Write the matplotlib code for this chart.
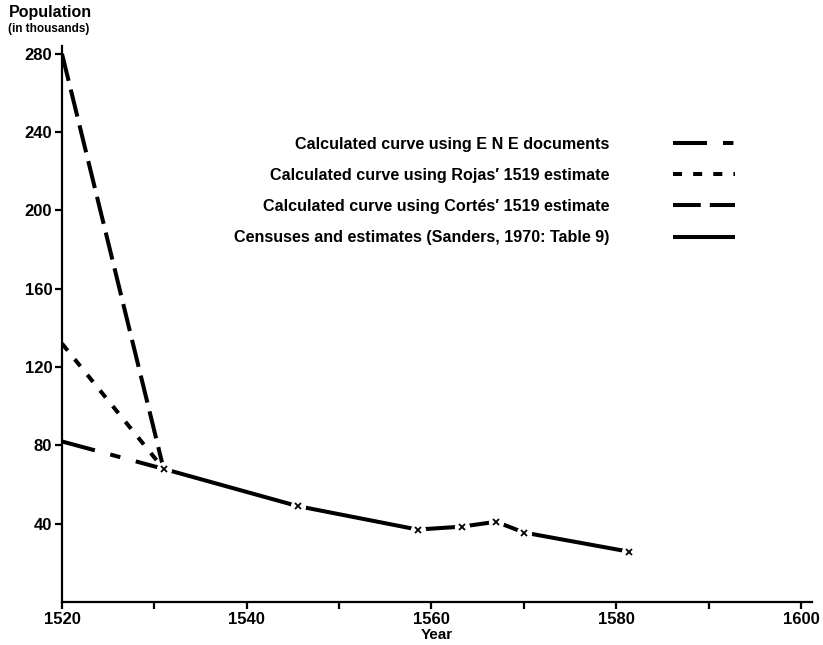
import matplotlib
matplotlib.use("Agg")
import matplotlib.pyplot as plt

plt.rcParams['font.family'] = ['Liberation Sans', 'DejaVu Sans']
plt.rcParams['lines.scale_dashes'] = False

# ---- data (population in thousands) ----
ene_years = [1520, 1531]
ene_values = [82, 68]

rojas_years = [1520, 1531]
rojas_values = [132, 68]

cortes_years = [1520, 1531]
cortes_values = [280, 68]

census_years = [1531, 1545.5, 1558.5, 1563.3, 1567, 1570, 1581.4]
census_values = [68, 49, 37, 38.5, 41, 35.5, 25.7]

labels = [
    "Calculated curve using E N E documents",
    "Calculated curve using Rojas\u2032 1519 estimate",
    "Calculated curve using Cort\u00e9s\u2032 1519 estimate",
    "Censuses and estimates (Sanders, 1970: Table 9)",
]

x_major = [1520, 1540, 1560, 1580, 1600]
x_ticks = [1520, 1530, 1540, 1550, 1560, 1570, 1580, 1590, 1600]
y_ticks = [40, 80, 120, 160, 200, 240, 280]

W, H = 823, 645
fig = plt.figure(figsize=(W / 100, H / 100), dpi=100)
ax = fig.add_axes([62 / W, (H - 602) / H, 750 / W, 556 / H])

lw = 2.9
l1, = ax.plot(ene_years, ene_values, color='black', lw=lw,
              linestyle=(0, (24.5, 11.5, 7.5, 11.5)), dash_capstyle='butt', label=labels[0])
l2, = ax.plot(rojas_years, rojas_values, color='black', lw=lw,
              linestyle=(0, (6.5, 8)), dash_capstyle='butt', label=labels[1])
l3, = ax.plot(cortes_years, cortes_values, color='black', lw=lw,
              linestyle=(0, (20, 6.5)), dash_capstyle='butt', label=labels[2])
l4, = ax.plot(census_years, census_values, color='black', lw=lw,
              solid_capstyle='butt', label=labels[3])
# white gaps around census markers, then the x markers
ax.plot(census_years, census_values, linestyle='none', marker='o', ms=11,
        mfc='white', mec='none', zorder=3)
ax.plot(census_years, census_values, linestyle='none', marker='x', ms=4,
        mew=1.3, color='black', zorder=4)

ax.set_xlim(1520, 1601.2)
ax.set_ylim(0, 284)

for s in ['top', 'right']:
    ax.spines[s].set_visible(False)
for s in ['left', 'bottom']:
    ax.spines[s].set_linewidth(1.6)

ax.set_xticks(x_ticks)
ax.set_xticklabels([str(t) if t in x_major else '' for t in x_ticks])
ax.set_yticks(y_ticks)
ax.set_yticklabels([str(t) for t in y_ticks])
ax.tick_params(axis='both', direction='out', length=5, width=1.6, labelsize=12, pad=2)
for t in ax.get_xticklabels() + ax.get_yticklabels():
    t.set_fontweight('bold')

ax.set_xlabel("Year", fontsize=11, fontweight='bold', labelpad=1)

fig.text(9 / W, 1 - 12 / H, "Population", fontsize=11.5, fontweight='bold', va='center', ha='left')
fig.text(8 / W, 1 - 29 / H, "(in thousands)", fontsize=8.5, fontweight='bold', va='center', ha='left')

fs = 11.6
leg = ax.legend(handles=[l1, l2, l3, l4], loc='upper right',
                bbox_to_anchor=(735 / W, 1 - 136.5 / H), bbox_transform=fig.transFigure,
                frameon=False, markerfirst=False, prop={'size': fs, 'weight': 'bold'},
                handlelength=44.6 / fs, handletextpad=46 / fs, labelspacing=1.01,
                borderpad=0, borderaxespad=0)

fig.savefig("out.png", dpi=100)
